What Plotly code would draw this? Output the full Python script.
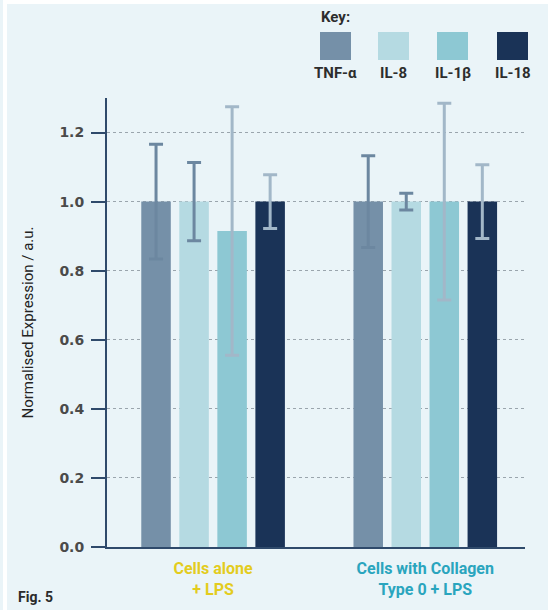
import plotly.graph_objects as go

# ---- data ----
groups = ["Cells alone<br>+ LPS", "Cells with Collagen<br>Type 0 + LPS"]
group_colors = ["#E3CC1E", "#2AA5BE"]
series = ["TNF-α", "IL-8", "IL-1β", "IL-18"]
values = {
    "TNF-α": [1.0, 1.0],
    "IL-8": [1.0, 1.0],
    "IL-1β": [0.915, 1.0],
    "IL-18": [1.0, 1.0],
}
errors = {
    "TNF-α": [0.166, 0.133],
    "IL-8": [0.113, 0.024],
    "IL-1β": [0.36, 0.285],
    "IL-18": [0.078, 0.107],
}
bar_colors = ["#7590A8", "#B5DAE2", "#8DC8D3", "#1A3357"]
err_colors = ["#6C87A0", "#6C87A0", "#A2B7C8", "#A2B7C8"]
y_ticks = [0.0, 0.2, 0.4, 0.6, 0.8, 1.0, 1.2]

W, H = 548, 610
ML, MR, MT, MB = 107, 23, 98, 63
PW, PH = W - ML - MR, H - MT - MB
BG = "#EAF4F8"

def px2x(px):
    return (px - ML) / PW

def py2y(py):
    return (H - MB - py) / PH

fig = go.Figure()
x_idx = list(range(len(groups)))
for s, c, ec in zip(series, bar_colors, err_colors):
    fig.add_trace(go.Bar(
        x=x_idx, y=values[s], name=s,
        marker=dict(color=c, line=dict(width=0)),
        error_y=dict(type="data", array=errors[s], color=ec, thickness=3, width=7),
        showlegend=False,
    ))

ticktext = [f"<b><span style='color:{col}'>{g}</span></b>" for g, col in zip(groups, group_colors)]

shapes = [
    dict(type="rect", xref="paper", yref="paper", x0=px2x(0), x1=px2x(3), y0=py2y(H), y1=py2y(0),
         fillcolor=BG, line=dict(width=0), layer="below"),
    dict(type="rect", xref="paper", yref="paper", x0=px2x(7), x1=px2x(W), y0=py2y(H), y1=py2y(4),
         fillcolor=BG, line=dict(width=0), layer="below"),
]
annotations = [
    dict(text="<b>Key:</b>", xref="paper", yref="paper", x=px2x(319), y=py2y(17),
         xanchor="left", yanchor="middle", showarrow=False,
         font=dict(size=15, color="#2d2d2d", family="Roboto")),
    dict(text="<b>Fig. 5</b>", xref="paper", yref="paper", x=px2x(16), y=py2y(597),
         xanchor="left", yanchor="middle", showarrow=False,
         font=dict(size=14, color="#2b2b2b", family="Roboto")),
]
sw_left = [320, 378, 437, 497]
for s, c, xl in zip(series, bar_colors, sw_left):
    shapes.append(dict(type="rect", xref="paper", yref="paper",
                       x0=px2x(xl), x1=px2x(xl + 31), y0=py2y(60), y1=py2y(32),
                       fillcolor=c, line=dict(width=0)))
    annotations.append(dict(text=f"<b>{s}</b>", xref="paper", yref="paper",
                            x=px2x(xl + 15.5), y=py2y(73), xanchor="center", yanchor="middle",
                            showarrow=False, font=dict(size=15, color="#2d2d2d", family="Roboto")))

fig.update_layout(
    width=W, height=H,
    margin=dict(l=ML, r=MR, t=MT, b=MB, pad=0),
    paper_bgcolor="white", plot_bgcolor="rgba(0,0,0,0)",
    barmode="group", bargap=0.283, bargroupgap=0.224,
    font=dict(family="Roboto", color="#3a3a3a"),
    shapes=shapes, annotations=annotations,
    xaxis=dict(range=[-0.5, 1.47], tickvals=x_idx, ticktext=ticktext,
               showline=True, linecolor="#2F4A6B", linewidth=2, ticks="",
               showgrid=False, zeroline=False, automargin=False, ticklabelstandoff=6,
               tickfont=dict(size=16, family="Roboto")),
    yaxis=dict(range=[0, 1.3], tickvals=y_ticks, tickformat=".1f",
               showline=True, linecolor="#2F4A6B", linewidth=2,
               ticks="outside", ticklen=14, tickwidth=2, tickcolor="#2F4A6B",
               showgrid=True, gridcolor="#9AA5AD", griddash="dot", gridwidth=1.3,
               zeroline=False, ticklabelstandoff=4, automargin=False,
               tickfont=dict(size=14, color="#4a4a4a", family="DejaVu Sans", weight="bold"),
               title=dict(text="Normalised Expression / a.u.", standoff=22,
                          font=dict(size=15, color="#222222", family="Roboto"))),
)

fig.write_html("out.html", config={"displayModeBar": False},
               post_script="document.body.style.margin='0';document.body.style.padding='0';")
